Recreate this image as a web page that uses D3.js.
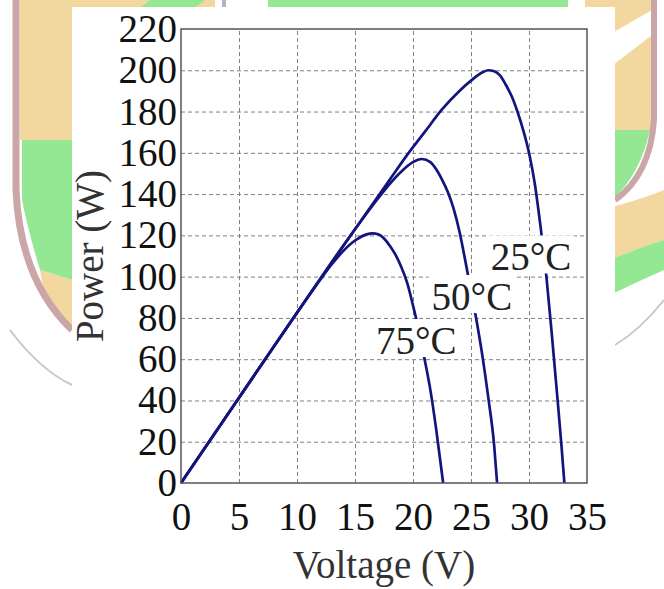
<!DOCTYPE html>
<html>
<head>
<meta charset="utf-8">
<script src="https://cdn.jsdelivr.net/npm/d3@7"></script>
<style>
  body { margin: 0; background: #fff; }
  svg { display: block; }
</style>
</head>
<body>
<svg id="chart" width="664" height="589"></svg>
<script>
// ---- data ----
const voltage25 = [0, 5, 10, 15, 18, 19.5, 21, 22.5, 24, 25, 26, 26.5, 27, 27.5, 28, 28.5, 29, 29.5, 30, 30.5, 31, 31.5, 32, 32.5, 32.8, 33.05];
const power25   = [0, 41.3, 82.5, 123, 147, 159, 170, 181, 190, 195, 199, 200, 199.5, 197.5, 193, 187.5, 180, 171, 160, 145, 124, 100, 70, 38, 18, 0];

const voltage50 = [0, 5, 10, 15, 17, 18, 19, 20, 20.75, 21.5, 22, 22.5, 23, 23.5, 24, 24.5, 25, 25.5, 26, 26.5, 27, 27.25];
const power50   = [0, 41.3, 82.5, 123, 138, 145, 151, 155.5, 157, 155.5, 152, 147, 141, 133, 122, 108, 93, 78, 61, 41, 18, 0];

const voltage75 = [0, 5, 10, 12, 13, 14, 15, 16, 16.5, 17, 17.5, 18, 18.5, 19, 19.5, 20, 20.5, 21, 21.5, 22, 22.6];
const power75   = [0, 41.3, 82.5, 98.5, 106, 112.5, 117.5, 120.5, 121, 120.5, 118.5, 115, 110.5, 104.5, 97, 86, 74, 60, 45, 26, 0];

const seriesNames = ["25°C", "50°C", "75°C"];
const xTicks = [0, 5, 10, 15, 20, 25, 30, 35];
const yTicks = [0, 20, 40, 60, 80, 100, 120, 140, 160, 180, 200, 220];

const series = [
  { name: seriesNames[0], v: voltage25, p: power25 },
  { name: seriesNames[1], v: voltage50, p: power50 },
  { name: seriesNames[2], v: voltage75, p: power75 }
];

// ---- layout ----
const svg = d3.select('#chart');
const plot = { left: 181, right: 587, top: 29, bottom: 483 };
const FONT = '"Liberation Serif", "Times New Roman", serif';
const FS = 39;
const lineColor = '#14147f';

const x = d3.scaleLinear().domain([0, 35]).range([plot.left, plot.right]);
const y = d3.scaleLinear().domain([0, 220]).range([plot.bottom, plot.top]);

// ---- faded logo watermark behind the figure (rough) ----
const bg = svg.append('g');
const tan = '#f2d79e', green = '#94e894', pink = '#caa6a8';
bg.append('rect').attr('width', 664).attr('height', 589).attr('fill', '#fff');
// left side
bg.append('path').attr('fill', tan)
  .attr('d', 'M20,0 L215,0 L215,20 L72,120 L72,140 L20,140 Z');
bg.append('path').attr('fill', green)
  .attr('d', 'M150,0 L205,0 L72,95 L72,60 Z');
bg.append('path').attr('fill', green)
  .attr('d', 'M22,140 L72,140 L72,280 L40,270 Q28,230 22,200 Z');
bg.append('path').attr('fill', tan)
  .attr('d', 'M40,270 L72,280 L72,330 Q55,320 45,300 Z');
bg.append('path').attr('fill', 'none').attr('stroke', pink).attr('stroke-width', 7)
  .attr('d', 'M16,0 L16,190 Q20,280 72,330');
bg.append('path').attr('fill', 'none').attr('stroke', '#c8c8c8').attr('stroke-width', 2)
  .attr('d', 'M10,330 Q40,370 72,385');
// top
bg.append('rect').attr('x', 222).attr('y', 0).attr('width', 4).attr('height', 8).attr('fill', '#b9b4c0');
bg.append('rect').attr('x', 268).attr('y', 0).attr('width', 300).attr('height', 8).attr('fill', green);
bg.append('rect').attr('x', 585).attr('y', 0).attr('width', 70).attr('height', 8).attr('fill', tan);
// right side
bg.append('path').attr('fill', tan)
  .attr('d', 'M600,0 L652,0 L652,130 L600,130 Z');
bg.append('path').attr('fill', '#fff')
  .attr('d', 'M600,40 L652,10 L652,35 L600,75 Z');
bg.append('path').attr('fill', green)
  .attr('d', 'M600,130 L650,130 Q640,175 612,200 L600,210 Z');
bg.append('path').attr('fill', tan)
  .attr('d', 'M600,210 Q640,200 664,190 L664,240 Q630,250 600,265 Z');
bg.append('path').attr('fill', green)
  .attr('d', 'M600,265 Q630,250 664,240 L664,270 Q630,285 600,300 Z');
bg.append('path').attr('fill', 'none').attr('stroke', pink).attr('stroke-width', 6)
  .attr('d', 'M654,0 L654,120 Q650,175 615,200');
bg.append('path').attr('fill', 'none').attr('stroke', '#c8c8c8').attr('stroke-width', 2)
  .attr('d', 'M615,345 Q640,330 664,300');

// white panel carrying the chart
bg.append('rect').attr('x', 72).attr('y', 7).attr('width', 543).attr('height', 582).attr('fill', '#fff');

// ---- grid ----
const grid = svg.append('g');
grid.append('g')
  .attr('transform', `translate(0,${plot.bottom})`)
  .call(d3.axisBottom(x).tickValues(xTicks.slice(1, -1)).tickSize(-(plot.bottom - plot.top)).tickFormat(''))
  .call(g => g.select('.domain').remove());
grid.append('g')
  .attr('transform', `translate(${plot.left},0)`)
  .call(d3.axisLeft(y).tickValues(yTicks.slice(1, -1)).tickSize(-(plot.right - plot.left)).tickFormat(''))
  .call(g => g.select('.domain').remove());
grid.selectAll('line')
  .attr('stroke', '#808080')
  .attr('stroke-width', 1)
  .attr('stroke-dasharray', '4,3');

// ---- curves ----
const line = d3.line()
  .x(d => x(d[0]))
  .y(d => y(d[1]))
  .curve(d3.curveMonotoneX);

svg.append('g').selectAll('path')
  .data(series)
  .join('path')
  .attr('d', s => line(s.v.map((v, i) => [v, s.p[i]])))
  .attr('fill', 'none')
  .attr('stroke', lineColor)
  .attr('stroke-width', 2.7)
  .attr('stroke-linejoin', 'round');

// ---- series labels (white boxes break the curves and grid) ----
const labelAt = { '25°C': [26.7, 103], '50°C': [21.6, 83.8], '75°C': [16.8, 62.5] };
const labels = svg.append('g');
series.forEach(s => {
  const [lv, lp] = labelAt[s.name];
  const t = labels.append('text')
    .attr('x', x(lv))
    .attr('y', y(lp))
    .attr('font-family', FONT)
    .attr('font-size', FS)
    .attr('fill', '#222')
    .text(s.name);
  const bb = t.node().getBBox();
  labels.insert('rect', 'text')
    .attr('x', bb.x - 3)
    .attr('y', y(lp) - 35)
    .attr('width', bb.width + 6)
    .attr('height', 38)
    .attr('fill', '#fff');
});

// ---- frame ----
svg.append('rect')
  .attr('x', plot.left).attr('y', plot.top)
  .attr('width', plot.right - plot.left).attr('height', plot.bottom - plot.top)
  .attr('fill', 'none')
  .attr('stroke', '#555')
  .attr('stroke-width', 1.5);

// ---- axes ----
const xAxis = svg.append('g')
  .attr('transform', `translate(0,${plot.bottom})`)
  .call(d3.axisBottom(x).tickValues(xTicks).tickSize(0).tickPadding(19));
const yAxis = svg.append('g')
  .attr('transform', `translate(${plot.left},0)`)
  .call(d3.axisLeft(y).tickValues(yTicks).tickSize(0).tickPadding(4));
[xAxis, yAxis].forEach(a => {
  a.select('.domain').remove();
  a.selectAll('text')
    .attr('font-family', FONT)
    .attr('font-size', FS)
    .attr('fill', '#111');
});

svg.append('text')
  .attr('x', (plot.left + plot.right) / 2)
  .attr('y', 578)
  .attr('text-anchor', 'middle')
  .attr('font-family', FONT)
  .attr('font-size', FS)
  .attr('fill', '#333')
  .text('Voltage (V)');

svg.append('text')
  .attr('transform', `translate(103,${(plot.top + plot.bottom) / 2}) rotate(-90)`)
  .attr('text-anchor', 'middle')
  .attr('font-family', FONT)
  .attr('font-size', FS)
  .attr('fill', '#333')
  .text('Power (W)');
</script>
</body>
</html>
